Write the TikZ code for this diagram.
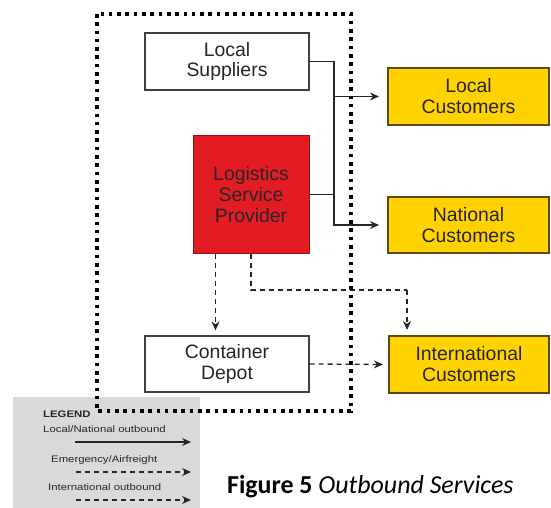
\documentclass[tikz,border=0pt]{standalone}
\usepackage{fontspec}
\usetikzlibrary{arrows.meta,calc}
\newfontfamily\boxfont{Liberation Sans}
\newfontfamily\capfont{Carlito}
\definecolor{custyellow}{HTML}{FFD200}
\definecolor{custedge}{HTML}{5A4A10}
\definecolor{lspred}{HTML}{E31B23}
\definecolor{lspedge}{HTML}{9A1015}
\definecolor{txtgray}{HTML}{262626}
\definecolor{legendgray}{HTML}{D9D9D9}
\newcommand{\widetext}[1]{\scalebox{1.2}[1]{#1}}
\tikzset{
  boxtext/.style={font=\boxfont\fontsize{19.5}{21}\selectfont, text=txtgray, align=center},
  whitebox/.style={boxtext, draw=black!75, line width=1.2bp, fill=white, inner sep=0pt},
  custbox/.style={boxtext, draw=custedge, line width=2bp, fill=custyellow, inner sep=0pt},
  redbox/.style={boxtext, draw=lspedge, line width=1bp, fill=lspred, inner sep=0pt},
  solidarr/.style={draw=black!85, line width=1.3bp, -{Stealth[length=9bp,width=8bp]}},
  plainline/.style={draw=black!85, line width=1.3bp},
  dasharr/.style={draw=black!85, line width=1.3bp, dash pattern=on 5bp off 4bp, -{Stealth[length=9bp,width=8bp]}},
  dashline/.style={draw=black!85, line width=1.3bp, dash pattern=on 5bp off 4bp},
  dotframe/.style={draw=black, line width=3.6bp, dash pattern=on 3.6bp off 4.7bp},
  legendtext/.style={font=\boxfont\fontsize{9.5}{11}\selectfont, text=black!85, inner sep=0pt, anchor=base west}
}
\begin{document}
\begin{tikzpicture}[x=1bp,y=-1bp]
\useasboundingbox (0,0) rectangle (551,508);

% legend panel
\fill[legendgray] (13,397) rectangle (200,508);
\node[legendtext, font=\boxfont\bfseries\fontsize{9.5}{11}\selectfont] (lgtitle) at (43,417) {\widetext{LEGEND}};
\node[legendtext] (lg1) at (43,432.5) {\widetext{Local/National outbound}};
\node[legendtext] (lg2) at (51,462.5) {\widetext{Emergency/Airfreight}};
\node[legendtext] (lg3) at (48,490.5) {\widetext{International outbound}};
\coordinate (la1) at (75,442);  \coordinate (lb1) at (191,442);
\coordinate (la2) at (76,472);  \coordinate (lb2) at (191,472);
\coordinate (la3) at (76,500);  \coordinate (lb3) at (191,500);
\draw[solidarr] (la1) -- (lb1);
\draw[dasharr] (la2) -- (lb2);
\draw[dasharr] (la3) -- (lb3);

% nodes
\node[whitebox, minimum width=164bp, minimum height=57bp] (sup) at (227,61.5) {Local\\Suppliers};
\node[redbox, minimum width=116bp, minimum height=117bp] (lsp) at (251,194.5) {Logistics\\Service\\Provider};
\node[whitebox, minimum width=164bp, minimum height=56bp] (dep) at (227,364) {Container\\Depot};
\node[custbox, minimum width=161bp, minimum height=57bp] (lc) at (468.5,96.5) {Local\\Customers};
\node[custbox, minimum width=161bp, minimum height=56bp] (nc) at (468.5,225) {National\\Customers};
\node[custbox, minimum width=160bp, minimum height=57bp] (ic) at (469,364.5) {International\\Customers};

% local / national outbound
\coordinate (trunk) at (334,0);
\draw[solidarr, shorten >=8bp] (sup.east) -| (trunk |- lc.west) -- (lc.west);
\draw[solidarr, shorten >=8bp] (trunk |- lc.west) |- (nc.west);
\draw[plainline] (lsp.east) -- (trunk |- lsp.east);

% emergency / international outbound
\coordinate (lspleft) at ($(lsp.south west)+(23,0)$);
\coordinate (icdrop) at ($(ic.north west)+(19,0)$);
\coordinate (bend) at (0,290);
\draw[dasharr, shorten >=5bp] (lspleft) -- (lspleft |- dep.north);
\draw[dashline] (lsp.south) -- (lsp.south |- bend) -- (icdrop |- bend);
\draw[dasharr, shorten >=5bp] (icdrop |- bend) -- (icdrop);
\draw[dasharr, shorten >=5bp] (dep.east) -- (ic.west);

% in-house boundary
\draw[dotframe] (97,14) rectangle (351,411);

% caption
\node[font=\capfont\fontsize{26}{28}\selectfont, anchor=base west, inner sep=0pt] (cap) at (227,493) {\textbf{Figure 5} \textit{Outbound Services}};
\end{tikzpicture}
\end{document}
